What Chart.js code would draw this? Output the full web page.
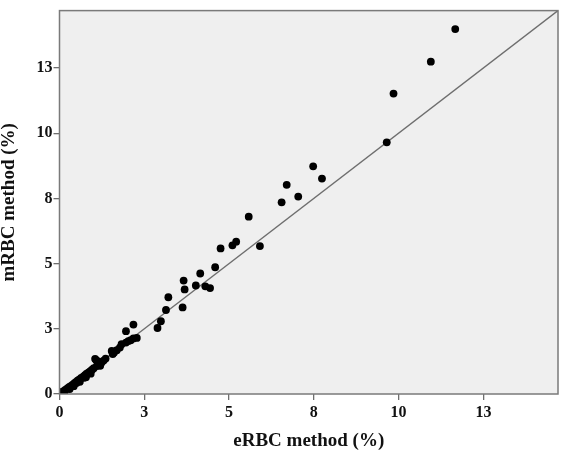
<!DOCTYPE html>
<html>
<head>
<meta charset="utf-8">
<script src="https://cdn.jsdelivr.net/npm/chart.js@4"></script>
<style>
  html, body { margin: 0; padding: 0; background: #ffffff; }
  #wrap { width: 562px; height: 454px; }
</style>
</head>
<body>
<div id="wrap"><canvas id="c" width="562" height="454"></canvas></div>
<script>
// eRBC method (%) values
const eRBC = [0.02,0.08,0.13,0.18,0.24,0.29,0.34,0.39,0.44,0.49,0.50,0.54,0.59,0.64,0.70,0.72,0.75,0.80,0.86,0.91,0.96,1.01,1.05,1.08,1.10,1.14,1.16,1.24,1.30,1.36,
  0.14,0.30,0.42,0.60,0.78,0.92,1.20,
  1.54,1.57,1.61,1.69,1.78,1.83,1.96,2.03,2.10,2.18,2.28,1.96,2.18,2.89,2.99,3.14,3.63,3.21,3.66,3.69,4.02,4.30,4.44,4.15,4.59,4.75,5.10,5.21,5.91,5.58,
  6.55,7.04,6.70,7.74,7.48,9.65,9.85,10.95,11.67];
// mRBC method (%) values
const mRBC = [0.03,0.08,0.12,0.17,0.22,0.27,0.31,0.36,0.42,0.46,0.42,0.52,0.56,0.62,0.67,0.62,0.72,0.78,0.83,0.88,0.93,0.99,1.35,1.30,1.07,1.25,1.12,1.21,1.28,1.36,
  0.05,0.19,0.30,0.47,0.64,0.78,1.08,
  1.65,1.53,1.59,1.68,1.78,1.91,1.97,2.03,2.06,2.13,2.15,2.41,2.66,2.53,2.79,3.22,3.32,3.71,4.35,4.01,4.16,4.13,4.06,4.62,4.86,5.58,5.70,5.84,5.67,6.80,
  7.35,7.57,8.02,8.26,8.73,9.65,11.52,12.74,13.99];
const axisMax = 14.7;
const tickValues = [0, 2.5, 5, 7.5, 10, 12.5];
const tickLabels = ['0', '3', '5', '8', '10', '13'];
const xTitle = 'eRBC method (%)';
const yTitle = 'mRBC method (%)';
const diagonal = [0, axisMax];

const points = eRBC.map((x, i) => ({ x: x, y: mRBC[i] }));
const diagPts = diagonal.map(v => ({ x: v, y: v }));

const plotBg = {
  id: 'plotBg',
  beforeDraw(chart) {
    const { ctx, chartArea: a } = chart;
    ctx.save();
    ctx.fillStyle = '#efefef';
    ctx.fillRect(a.left, a.top, a.right - a.left, a.bottom - a.top);
    ctx.restore();
  },
  afterDraw(chart) {
    const { ctx, chartArea: a } = chart;
    ctx.save();
    ctx.strokeStyle = '#7a7a7a';
    ctx.lineWidth = 1.5;
    ctx.strokeRect(a.left, a.top, a.right - a.left, a.bottom - a.top);
    ctx.restore();
  }
};

const tickFont = { family: '"Liberation Serif", "Times New Roman", serif', size: 16, weight: 'bold' };
const titleFont = { family: '"Liberation Serif", "Times New Roman", serif', size: 19, weight: 'bold', lineHeight: 1.0 };

function setTicks(scale) {
  scale.ticks = tickValues.map(v => ({ value: v }));
}

new Chart(document.getElementById('c'), {
  type: 'scatter',
  data: {
    datasets: [
      {
        type: 'line',
        data: diagPts,
        borderColor: '#6e6e6e',
        borderWidth: 1.3,
        pointRadius: 0,
        fill: false,
        order: 2
      },
      {
        data: points,
        backgroundColor: '#000000',
        borderColor: '#000000',
        pointRadius: 3.9,
        borderWidth: 0,
        order: 1
      }
    ]
  },
  options: {
    responsive: false,
    devicePixelRatio: 1,
    animation: false,
    layout: { padding: { top: 5, right: 4, left: 0, bottom: 0 } },
    plugins: { legend: { display: false }, tooltip: { enabled: false } },
    scales: {
      x: {
        type: 'linear',
        min: 0,
        max: axisMax,
        afterBuildTicks: setTicks,
        afterFit(scale) { scale.height = 60; },
        grid: { drawOnChartArea: false, drawTicks: true, tickLength: 6, color: '#6e6e6e', lineWidth: 1.3 },
        border: { display: false },
        ticks: {
          color: '#111',
          font: tickFont,
          padding: 3,
          maxRotation: 0,
          callback: (v, i) => tickLabels[i]
        },
        title: { display: true, text: xTitle, color: '#111', font: titleFont, padding: { top: 0, bottom: 3 } }
      },
      y: {
        type: 'linear',
        min: 0,
        max: axisMax,
        afterBuildTicks: setTicks,
        afterFit(scale) { scale.width = 59.5; },
        grid: { drawOnChartArea: false, drawTicks: true, tickLength: 6, color: '#6e6e6e', lineWidth: 1.3 },
        border: { display: false },
        ticks: {
          color: '#111',
          font: tickFont,
          padding: 1,
          callback: (v, i) => tickLabels[i]
        },
        title: { display: true, text: yTitle, color: '#111', font: titleFont, padding: { top: 0, bottom: 0 } }
      }
    }
  },
  plugins: [plotBg]
});
</script>
</body>
</html>
